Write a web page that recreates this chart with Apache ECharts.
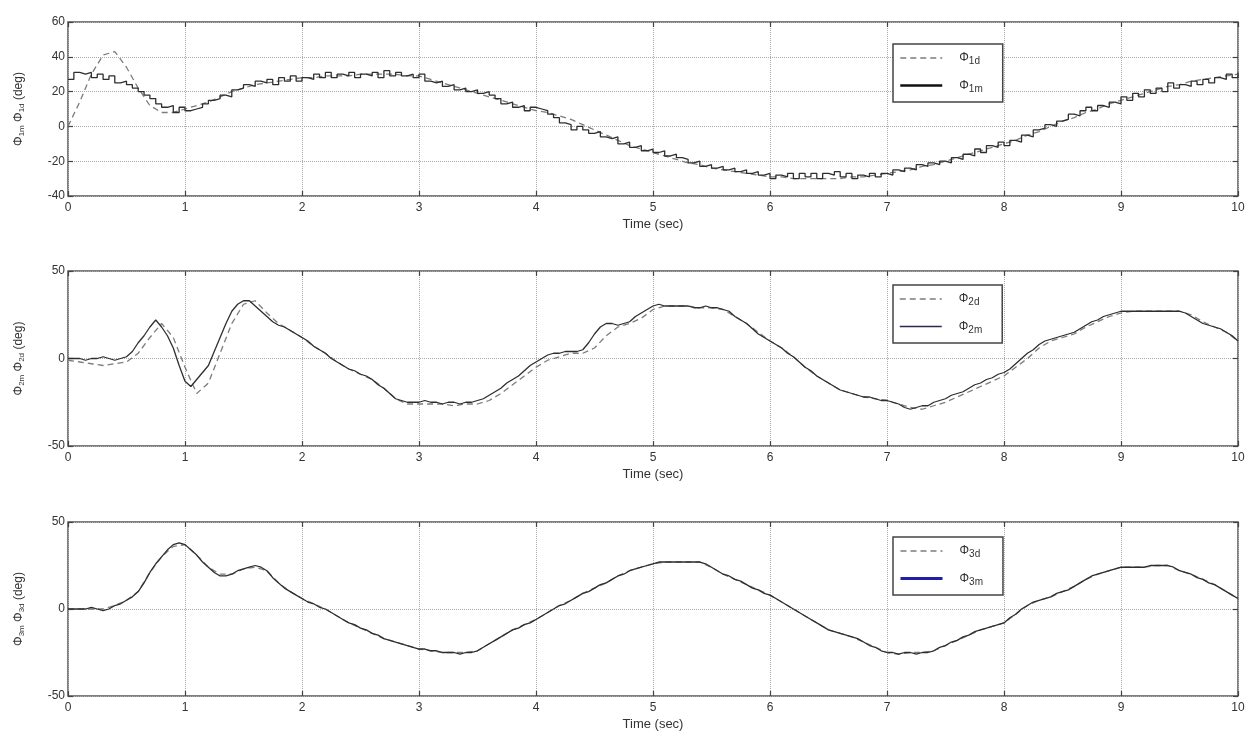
<!DOCTYPE html>
<html>
<head>
<meta charset="utf-8">
<script src="https://cdn.jsdelivr.net/npm/echarts@6/dist/echarts.min.js"></script>
<style>
html,body{margin:0;padding:0;background:#fff;}
#chart{width:1252px;height:736px;}
</style>
</head>
<body>
<div id="chart"></div>
<script>
// ---------- data ----------
const FINE_STEP = 0.05;   // sampling of measured signals (s)
const COARSE_STEP = 0.1;  // sampling of desired signals (s)
const xTicks = [0,1,2,3,4,5,6,7,8,9,10];

// Panel 1: Phi_1d (desired, every 0.1 s) and Phi_1m (measured, every 0.05 s)
const phi1d = [
  0,14,30,41,43,34,22,12,8,8,
  10,12,14,17,20,22,24,25,26,27,
  28,28,29,29,29,30,30,30,30,29,
  29,27,25,23,21,19,17,15,13,11,
  9,8,6,4,1,-2,-5,-8,-11,-13,
  -15,-17,-19,-21,-22,-24,-25,-26,-27,-28,
  -29,-29,-30,-30,-30,-30,-30,-29,-29,-28,
  -27,-26,-25,-23,-22,-20,-18,-16,-14,-12,
  -10,-8,-5,-3,0,3,5,8,10,13,
  15,17,19,21,23,24,26,27,28,29,
  30
];
const phi1m = [
  27,31,30,31,28,30,27,29,25,26,24,22,20,18,16,13,11,12,8,11,
  9,10,11,13,15,16,18,17,21,22,24,23,26,25,27,24,28,26,29,26,
  28,27,30,28,31,28,30,29,31,28,30,29,31,28,32,29,31,29,30,28,
  30,26,25,26,23,24,21,22,20,21,19,20,18,16,13,14,11,12,9,11,
  10,9,7,5,2,1,-2,0,-2,-4,-3,-6,-7,-6,-10,-9,-12,-11,-14,-13,
  -15,-14,-17,-16,-18,-19,-21,-20,-23,-22,-24,-23,-25,-24,-26,-25,-27,-26,-28,-27,
  -30,-28,-29,-27,-30,-27,-29,-27,-30,-27,-28,-26,-29,-27,-30,-28,-29,-27,-29,-27,
  -28,-25,-26,-24,-25,-22,-23,-21,-22,-20,-21,-18,-19,-16,-17,-13,-15,-11,-12,-9,
  -11,-8,-9,-5,-6,-2,-1,1,0,3,4,7,6,9,11,9,12,11,14,13,
  17,15,19,17,21,19,22,20,25,22,24,23,26,24,27,25,28,27,30,28,
  31
];

// Panel 2: Phi_2d (desired) and Phi_2m (measured)
const phi2d = [
  -1,-2,-3,-4,-3,-2,3,12,20,12,
  -5,-20,-14,3,20,31,33,26,20,16,
  12,7,3,-2,-6,-9,-12,-17,-23,-26,
  -26,-26,-26,-27,-26,-26,-24,-20,-15,-10,
  -5,-1,1,3,3,6,13,18,20,23,
  28,30,30,30,29,29,28,24,20,15,
  10,6,1,-5,-10,-14,-18,-20,-22,-23,
  -24,-26,-28,-29,-27,-25,-22,-19,-16,-13,
  -10,-5,0,6,10,12,14,18,21,24,
  26,27,27,27,27,27,25,21,18,15,
  10
];
const phi2m = [
  0,0,0,-1,0,0,1,0,-1,0,1,4,9,13,18,22,18,13,6,-4,
  -13,-16,-12,-8,-4,4,12,20,27,31,33,33,30,27,24,21,19,18,16,14,
  12,10,7,5,3,0,-2,-4,-6,-7,-9,-10,-12,-15,-17,-20,-23,-24,-25,-25,
  -25,-24,-25,-25,-26,-25,-25,-26,-25,-25,-24,-23,-21,-19,-17,-14,-12,-10,-7,-4,
  -2,0,2,3,3,4,4,4,5,9,14,18,20,20,19,20,21,24,26,28,
  30,31,30,30,30,30,30,29,29,30,29,29,28,27,24,22,20,17,14,12,
  10,8,6,3,1,-2,-5,-7,-10,-12,-14,-16,-18,-19,-20,-21,-22,-22,-23,-24,
  -24,-25,-26,-28,-29,-28,-27,-27,-25,-24,-23,-21,-20,-19,-17,-15,-14,-12,-11,-9,
  -8,-6,-3,0,3,5,8,10,11,12,13,14,15,17,19,21,22,24,25,26,
  27,27,27,27,27,27,27,27,27,27,27,26,24,22,20,19,18,17,15,13,
  10
];

// Panel 3: Phi_3d (desired) and Phi_3m (measured)
const phi3d = [
  0,0,0,0,2,5,10,21,30,36,
  37,31,24,20,20,23,24,22,15,10,
  6,3,0,-4,-8,-11,-14,-17,-19,-21,
  -23,-24,-25,-25,-25,-24,-20,-16,-12,-9,
  -6,-2,2,5,9,12,15,19,22,24,
  26,27,27,27,27,24,20,17,14,11,
  8,4,0,-4,-8,-12,-14,-16,-19,-22,
  -25,-26,-25,-25,-24,-21,-18,-15,-12,-10,
  -8,-3,2,5,7,10,13,17,20,22,
  24,24,24,25,25,22,20,17,14,10,
  6
];
const phi3m = [
  0,0,0,0,1,0,-1,0,2,3,5,7,10,15,21,26,30,34,37,38,
  37,34,31,27,24,21,19,19,20,22,23,24,25,24,22,18,15,12,10,8,
  6,4,3,1,0,-2,-4,-6,-8,-9,-11,-12,-14,-15,-17,-18,-19,-20,-21,-22,
  -23,-23,-24,-24,-25,-25,-25,-26,-25,-25,-24,-22,-20,-18,-16,-14,-12,-11,-9,-8,
  -6,-4,-2,0,2,3,5,7,9,10,12,14,15,17,19,20,22,23,24,25,
  26,27,27,27,27,27,27,27,27,26,24,22,20,19,17,16,14,12,11,9,
  8,6,4,2,0,-2,-4,-6,-8,-10,-12,-13,-14,-15,-16,-17,-19,-21,-22,-24,
  -25,-25,-26,-25,-25,-26,-25,-25,-24,-22,-21,-19,-18,-16,-15,-13,-12,-11,-10,-9,
  -8,-5,-3,0,2,4,5,6,7,9,10,11,13,15,17,19,20,21,22,23,
  24,24,24,24,24,25,25,25,25,24,22,21,20,18,17,15,14,12,10,8,
  6
];

// ---------- helpers ----------
function pairs(step, vals){
  return vals.map((v,i)=>[+(i*step).toFixed(2), v]);
}

const TXT = '#333';
const FONT = 'Liberation Sans, Arial, sans-serif';
const grids = [
  {left:68, top:22, width:1170, height:174},
  {left:68, top:271, width:1170, height:175},
  {left:68, top:522, width:1170, height:174}
];
const yRanges = [
  {min:-40, max:60, interval:20},
  {min:-50, max:50, interval:50},
  {min:-50, max:50, interval:50}
];
const yNames = [
  '\u03a6{s|1m} \u03a6{s|1d} (deg)',
  '\u03a6{s|2m} \u03a6{s|2d} (deg)',
  '\u03a6{s|3m} \u03a6{s|3d} (deg)'
];

const tickStyle = {show:true, inside:true, length:5, lineStyle:{color:'#444', width:1.2}};
const xAxes = [], yAxes = [];
grids.forEach((g, i) => {
  xAxes.push({
    type:'value', gridIndex:i, min:0, max:10, interval:1, position:'bottom',
    name:'Time (sec)', nameLocation:'middle', nameGap:22,
    nameTextStyle:{color:TXT, fontSize:13, fontFamily:FONT},
    axisLine:{show:false, onZero:false},
    axisTick:tickStyle,
    axisLabel:{color:TXT, fontSize:12, fontFamily:FONT, margin:6},
    splitLine:{show:true, lineStyle:{color:'#aaa', type:'dotted', width:1}}
  });
  xAxes.push({
    type:'value', gridIndex:i, min:0, max:10, interval:1, position:'top',
    axisLine:{show:false, onZero:false},
    axisTick:tickStyle,
    axisLabel:{show:false}, splitLine:{show:false}
  });
  yAxes.push({
    type:'value', gridIndex:i, min:yRanges[i].min, max:yRanges[i].max, interval:yRanges[i].interval,
    position:'left',
    name:yNames[i], nameLocation:'middle', nameGap:42, nameRotate:90,
    nameTextStyle:{color:TXT, fontSize:12, fontFamily:FONT,
      rich:{s:{fontSize:8, fontFamily:FONT, color:TXT, padding:[6,0,0,0]}}},
    axisLine:{show:false, onZero:false},
    axisTick:tickStyle,
    axisLabel:{color:TXT, fontSize:12, fontFamily:FONT, margin:3},
    splitLine:{show:true, lineStyle:{color:'#aaa', type:'dotted', width:1}}
  });
  yAxes.push({
    type:'value', gridIndex:i, min:yRanges[i].min, max:yRanges[i].max, interval:yRanges[i].interval,
    position:'right',
    axisLine:{show:false, onZero:false},
    axisTick:tickStyle,
    axisLabel:{show:false}, splitLine:{show:false}
  });
});

const DES = '#7c7c7c', MEAS = '#2e2e2e';
function desired(name, i, vals){
  return {name, type:'line', xAxisIndex:2*i, yAxisIndex:2*i, data:pairs(COARSE_STEP, vals),
    symbol:'none', smooth:false, z:3,
    itemStyle:{color:DES}, lineStyle:{color:DES, width:1.3, type:[6,4]}};
}
function measured(name, i, vals, step){
  const s = {name, type:'line', xAxisIndex:2*i, yAxisIndex:2*i, data:pairs(FINE_STEP, vals),
    symbol:'none', z:4,
    itemStyle:{color:MEAS}, lineStyle:{color:MEAS, width:1.3}};
  if (step) s.step = 'end';
  return s;
}

const series = [
  desired('\u03a61d', 0, phi1d), measured('\u03a61m', 0, phi1m, true),
  desired('\u03a62d', 1, phi2d), measured('\u03a62m', 1, phi2m, false),
  desired('\u03a63d', 2, phi3d), measured('\u03a63m', 2, phi3m, false)
];

const legendTops = [44, 285, 537];
const legendMeasColor = ['#111', '#2a2a55', '#1f1fa8'];
const legendMeasWidth = [2.5, 1.5, 3];
const legends = legendTops.map((top, i) => ({
  left: 893, top: top, orient:'vertical',
  data:[
    {name:'\u03a6'+(i+1)+'d', itemStyle:{opacity:0},
     lineStyle:{color:DES, width:1.5, type:[6,4]}},
    {name:'\u03a6'+(i+1)+'m', itemStyle:{opacity:0},
     lineStyle:{color:legendMeasColor[i], width:legendMeasWidth[i], type:'solid'}}
  ],
  itemStyle:{opacity:0},
  padding:[8, 20, 8, 6],
  itemWidth:42, itemHeight:14, itemGap:13,
  borderColor:'#444', borderWidth:1.5, backgroundColor:'#fff',
  selectedMode:false,
  formatter: name => '\u03a6{s|' + name.slice(1) + '}',
  textStyle:{color:TXT, fontSize:12, fontFamily:FONT, padding:[0,0,0,12],
    rich:{s:{fontSize:10, fontFamily:FONT, color:TXT, padding:[7,0,0,0]}}}
}));

const chart = echarts.init(document.getElementById('chart'), null, {renderer:'canvas'});
chart.setOption({
  backgroundColor:'#fff',
  animation:false,
  grid: grids.map(g => Object.assign({show:true, borderColor:'#555', borderWidth:1.5, backgroundColor:'#fff'}, g)),
  xAxis: xAxes,
  yAxis: yAxes,
  legend: legends,
  series: series
});
</script>
</body>
</html>
